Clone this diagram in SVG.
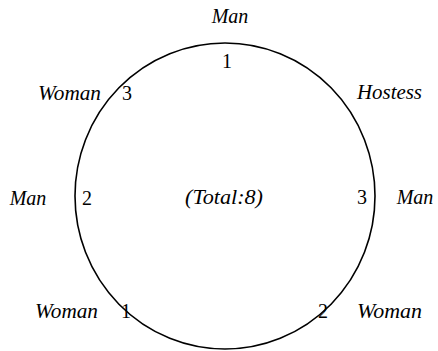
<svg xmlns="http://www.w3.org/2000/svg" width="438" height="351" viewBox="0 0 438 351">
<style>
.lbl{font-family:"Liberation Serif","Times New Roman",serif;font-style:italic;font-size:20px;fill:#000}
.mid{text-anchor:middle}
.num{font-family:"Liberation Serif","Times New Roman",serif;font-size:20px;fill:#000;text-anchor:middle}
.table{fill:none;stroke:#000;stroke-width:1.6}
</style>
<rect width="438" height="351" fill="#fff"/>
<g id="table"><ellipse class="table" cx="225" cy="196" rx="150" ry="153"/></g>
<g id="connectors"></g>
<g id="center"><text class="lbl" x="185" y="204" textLength="78" lengthAdjust="spacingAndGlyphs">(Total:8)</text></g>
<g id="seat-top"><text class="lbl mid" x="230" y="23">Man</text><text class="num" x="227" y="68">1</text></g>
<g id="seat-upper-left"><text class="lbl" x="38" y="100" textLength="63" lengthAdjust="spacingAndGlyphs">Woman</text><text class="num" x="127" y="100">3</text></g>
<g id="seat-upper-right"><text class="lbl" x="357" y="99" textLength="65" lengthAdjust="spacingAndGlyphs">Hostess</text></g>
<g id="seat-left"><text class="lbl mid" x="28" y="205">Man</text><text class="num" x="87" y="205">2</text></g>
<g id="seat-right"><text class="num" x="362" y="204">3</text><text class="lbl mid" x="415" y="204">Man</text></g>
<g id="seat-lower-left"><text class="lbl" x="35" y="318" textLength="63" lengthAdjust="spacingAndGlyphs">Woman</text><text class="num" x="126" y="318">1</text></g>
<g id="seat-lower-right"><text class="num" x="323" y="318">2</text><text class="lbl" x="357" y="318" textLength="65" lengthAdjust="spacingAndGlyphs">Woman</text></g>
</svg>
